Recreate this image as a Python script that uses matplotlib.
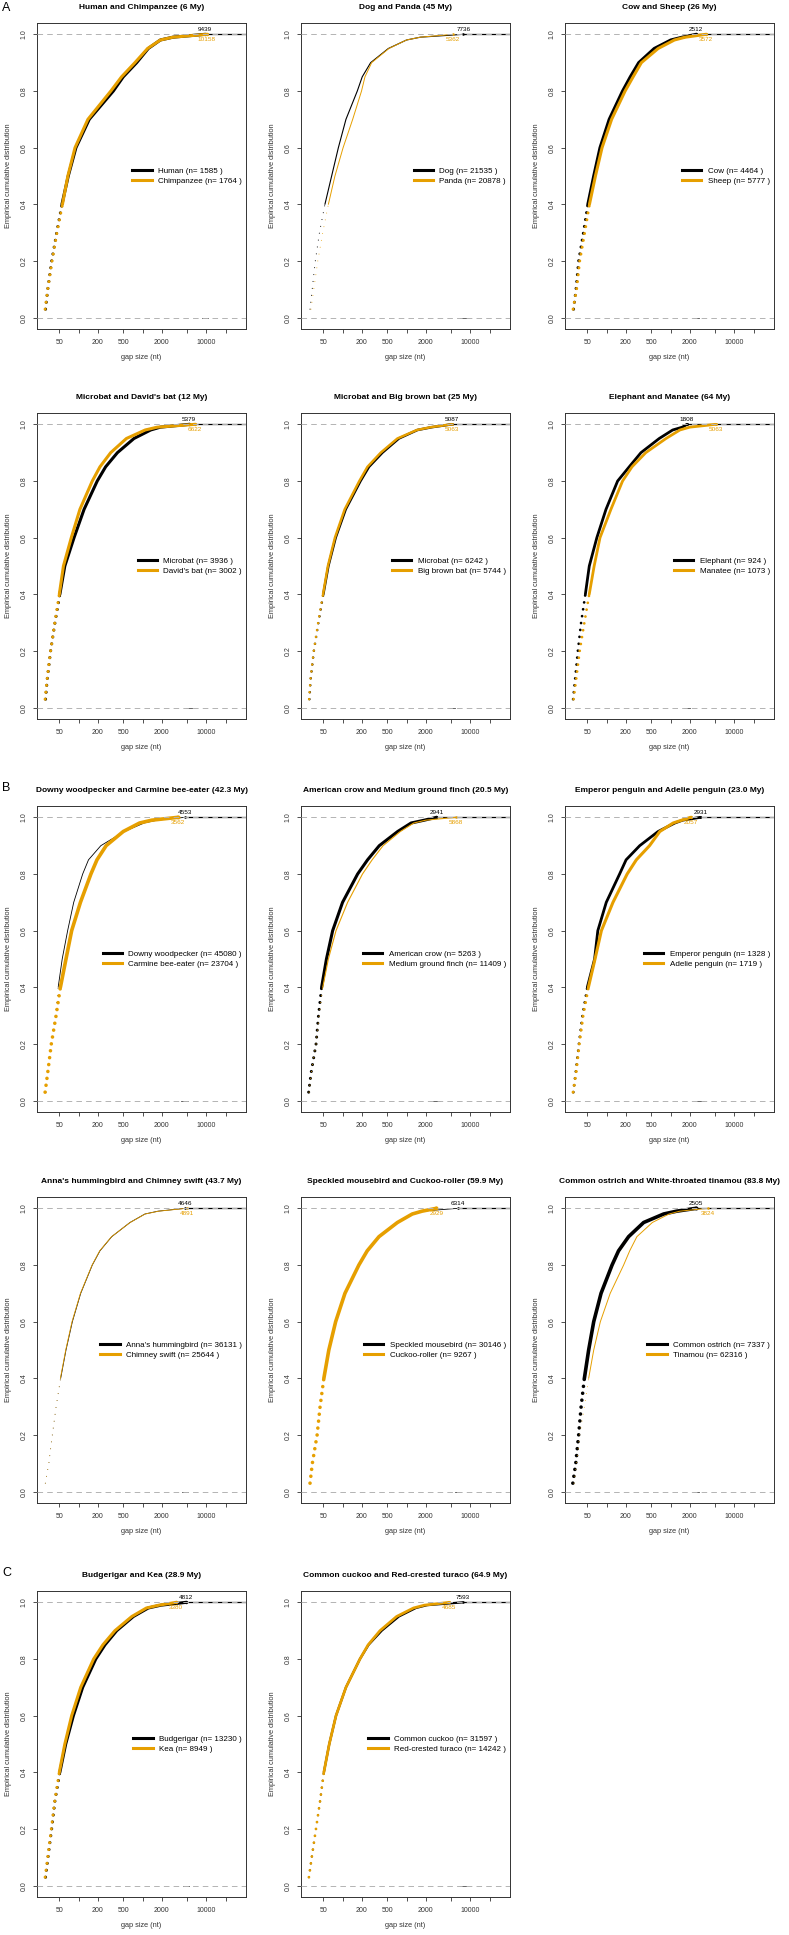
import matplotlib
matplotlib.use("Agg")
import numpy as np
import matplotlib.pyplot as plt
from matplotlib.ticker import FixedLocator, NullLocator, FixedFormatter
from matplotlib.lines import Line2D

plt.rcParams['font.family'] = ['Liberation Sans', 'DejaVu Sans']
plt.rcParams['lines.scale_dashes'] = False

ORANGE = '#E69F00'

LEVELS = [0.03, 0.1, 0.2, 0.3, 0.4, 0.5, 0.6, 0.7, 0.8, 0.85, 0.9, 0.95, 0.98, 0.99]

# gap size (nt) where each curve reaches LEVELS
human = [30.5, 33, 38, 45.5, 55, 69, 91, 147, 350, 500, 810, 1230, 1900, 3000]
chimp = [30, 33, 38.5, 46, 56, 68, 88, 140, 320, 470, 760, 1200, 1900, 3000]
dog = [31, 33.5, 37.5, 43.5, 53, 67.5, 86, 113, 170, 203, 275, 520, 1000, 1650]
panda = [32, 35.5, 41, 49, 60, 76, 102, 144, 198, 224, 285, 530, 1000, 1650]
cow = [30.5, 33.3, 36.6, 43.5, 51, 63, 79, 110, 178, 235, 318, 556, 1010, 1530]
sheep = [30, 34, 38, 45.5, 54, 67, 85, 120, 195, 260, 350, 640, 1150, 1700]
microbat_a = [30.5, 32.4, 36.6, 42.8, 51, 61, 85, 122, 196, 265, 405, 735, 1340, 1900]
davids_bat = [30, 32.2, 36.5, 42.5, 50, 58, 77, 105, 164, 216, 318, 560, 1100, 1700]
microbat_b = [30.3, 31.7, 35.6, 41.9, 50, 60, 78, 112, 191, 259, 420, 760, 1480, 2500]
big_brown_bat = [30, 31.5, 35.5, 41.5, 49.5, 59, 76, 108, 183, 245, 395, 720, 1450, 2400]
elephant = [30, 32.2, 35.6, 40, 46.6, 53.7, 70.5, 98, 149, 226, 345, 666, 1080, 1530]
manatee = [30.5, 33.5, 38, 45, 53.6, 64, 79, 117, 178, 250, 410, 850, 1400, 2000]
downy = [31, 32.9, 37.1, 43.2, 48, 55.5, 67.5, 84, 116, 143, 223, 520, 1060, 1700]
carmine = [30, 33, 37.5, 44.5, 52, 63.6, 78, 107, 156, 194, 270, 500, 900, 1400]
crow = [29.5, 32.3, 38.5, 42, 47, 56, 70, 100, 172, 246, 375, 727, 1180, 1900]
finch = [30, 32.5, 38.5, 43, 49, 60, 79, 120, 205, 290, 430, 800, 1300, 2000]
emperor = [30.2, 33, 37, 42, 50, 65, 73, 99, 160, 202, 330, 640, 1170, 1550]
adelie = [30, 33.5, 37.5, 43, 52, 66, 83, 126, 210, 292, 470, 680, 1100, 1500]
ostrich = [29.7, 33, 36.6, 40, 45, 52.5, 63, 82, 122, 154, 221, 380, 780, 1250]
tinamou = [31, 34, 38, 45, 52.5, 63, 80, 114, 185, 230, 298, 520, 950, 1400]
annas = [30.2, 34.4, 38.9, 44.6, 52.5, 63.6, 80, 108, 164, 216, 330, 637, 1090, 1750]
chimney = [30.2, 34.2, 38.7, 44.4, 52, 63, 79, 107, 163, 214, 328, 640, 1100, 1800]
speckled = [31, 33.7, 40.3, 44.6, 51, 61, 78, 109, 180, 243, 371, 720, 1230, 1750]
cuckoo_roller = [31, 33.7, 40, 44.5, 51, 61, 78, 109, 180, 243, 371, 720, 1230, 1750]
budgerigar = [30.5, 33.3, 38, 42.8, 51, 63, 83, 116, 186, 259, 395, 720, 1230, 1950]
kea = [30, 33, 37.5, 42.5, 50, 61, 78, 108, 172, 240, 370, 680, 1150, 1800]
common_cuckoo = [29.8, 33, 38.4, 44.6, 51, 62, 79, 113, 187, 255, 410, 760, 1400, 2100]
turaco = [29.8, 33, 38.4, 44.6, 51, 62, 79, 113, 187, 251, 385, 700, 1285, 1900]

titles = ["Human and Chimpanzee (6 My)", "Dog and Panda (45 My)", "Cow and Sheep (26 My)",
          "Microbat and David's bat (12 My)", "Microbat and Big brown bat (25 My)",
          "Elephant and Manatee (64 My)",
          "Downy woodpecker and Carmine bee-eater (42.3 My)",
          "American crow and Medium ground finch (20.5 My)",
          "Emperor penguin and Adelie penguin (23.0 My)",
          "Anna's hummingbird and Chimney swift (43.7 My)",
          "Speckled mousebird and Cuckoo-roller (59.9 My)",
          "Common ostrich and White-throated tinamou (83.8 My)",
          "Budgerigar and Kea (28.9 My)", "Common cuckoo and Red-crested turaco (64.9 My)"]
black_names = ["Human", "Dog", "Cow", "Microbat", "Microbat", "Elephant", "Downy woodpecker",
               "American crow", "Emperor penguin", "Anna's hummingbird", "Speckled mousebird",
               "Common ostrich", "Budgerigar", "Common cuckoo"]
orange_names = ["Chimpanzee", "Panda", "Sheep", "David's bat", "Big brown bat", "Manatee",
                "Carmine bee-eater", "Medium ground finch", "Adelie penguin", "Chimney swift",
                "Cuckoo-roller", "Tinamou", "Kea", "Red-crested turaco"]
black_n = [1585, 21535, 4464, 3936, 6242, 924, 45080, 5263, 1328, 36131, 30146, 7337, 13230, 31597]
orange_n = [1764, 20878, 5777, 3002, 5744, 1073, 23704, 11409, 1719, 25644, 9267, 62316, 8949, 14242]
black_max = [9439, 7736, 2512, 5379, 5087, 1808, 4553, 2941, 2931, 4646, 6314, 2505, 4812, 7593]
orange_max = [10158, 5362, 3572, 6622, 5063, 5063, 3562, 5868, 2057, 4891, 2929, 3824, 3380, 4685]
black_curves = [human, dog, cow, microbat_a, microbat_b, elephant, downy, crow, emperor,
                annas, speckled, ostrich, budgerigar, common_cuckoo]
orange_curves = [chimp, panda, sheep, davids_bat, big_brown_bat, manatee, carmine, finch,
                 adelie, chimney, cuckoo_roller, tinamou, kea, turaco]
black_lw = [2.2, 0.8, 2.2, 2.2, 1.8, 2.0, 0.6, 2.2, 2.0, 0.6, 0.6, 2.6, 2.2, 1.6]
orange_lw = [2.2, 0.7, 2.2, 2.2, 1.8, 2.0, 2.6, 0.8, 2.2, 0.6, 2.6, 0.7, 2.2, 2.0]

W, H = 789, 1935
col_left = [37, 301, 565]
row_top = [23, 413, 806, 1197, 1591]
ax_w, ax_h = 209, 306
XMIN, XMAX = 22.4, 41500


def draw_ecdf(ax, xs, gmax, color, lw, z):
    x = np.array(xs + [gmax])
    y = np.array(LEVELS + [1.0])
    k = LEVELS.index(0.4)
    ax.plot(x[:k + 1], y[:k + 1], color=color, lw=lw, ls=(0, (0.01, 5.0)),
            dash_capstyle='round', zorder=z)
    ax.plot(x[k:], y[k:], color=color, lw=lw, solid_capstyle='round',
            solid_joinstyle='round', zorder=z)
    ax.plot([gmax], [1.0], 'o', color=color, ms=max(lw * 1.1, 1.8), mew=0, zorder=z)


fig = plt.figure(figsize=(W / 100, H / 100), dpi=100)

for i in range(14):
    r, c = divmod(i, 3)
    ax = fig.add_axes([col_left[c] / W, 1 - (row_top[r] + ax_h) / H, ax_w / W, ax_h / H])
    ax.set_xscale('log')

    bmax, omax = black_max[i], orange_max[i]
    # tail of the first curve and the little mark at 0
    ax.plot([bmax, XMAX], [1, 1], color='black', lw=0.9, zorder=2)
    ax.plot([bmax / 1.12, bmax * 1.12], [0, 0], color='0.3', lw=0.6, zorder=2)
    draw_ecdf(ax, black_curves[i], bmax, 'black', black_lw[i], 3)
    draw_ecdf(ax, orange_curves[i], omax, ORANGE, orange_lw[i], 4)
    for h in (0, 1):
        ax.axhline(h, color='#B3B3B3', lw=0.7, ls=(0, (4, 3)), zorder=5)

    ax.text(bmax, 1.01, str(bmax), ha='center', va='bottom', fontsize=4.6, color='black')
    ax.text(omax, 0.99, str(omax), ha='center', va='top', fontsize=4.6, color=ORANGE)

    ax.set_xlim(XMIN, XMAX)
    ax.set_ylim(-0.04, 1.04)
    xt = [50, 100, 200, 500, 1000, 2000, 5000, 10000, 20000]
    ax.xaxis.set_major_locator(FixedLocator(xt))
    ax.xaxis.set_major_formatter(FixedFormatter(['50', '', '200', '500', '', '2000', '', '10000', '']))
    ax.xaxis.set_minor_locator(NullLocator())
    ax.set_yticks([0, 0.2, 0.4, 0.6, 0.8, 1.0])
    ax.set_yticklabels(['0.0', '0.2', '0.4', '0.6', '0.8', '1.0'], rotation=90, va='center')
    ax.tick_params(direction='out', length=3, width=0.6, labelsize=5, pad=4, colors='#333333',
                   labelcolor='#333333')
    for s in ax.spines.values():
        s.set_linewidth(0.7)
        s.set_color('#333333')

    ax.set_xlabel('gap size (nt)', fontsize=5.3, labelpad=6, color='#333333')
    ax.set_ylabel('Empirical cumulative distribution', fontsize=5.3, labelpad=6, color='#333333')
    ax.set_title(titles[i], fontsize=6, fontweight='bold', pad=10)

    handles = [Line2D([], [], color='black', lw=2.2), Line2D([], [], color=ORANGE, lw=2.2)]
    labels = [f"{black_names[i]} (n= {black_n[i]} )", f"{orange_names[i]} (n= {orange_n[i]} )"]
    ax.legend(handles, labels, loc='center right', frameon=False, fontsize=5.8,
              handlelength=2.4, handletextpad=0.8, labelspacing=0.25,
              borderpad=0.2, borderaxespad=0.3)

fig.text(2 / W, 1 - 8 / H, 'A', fontsize=9, va='center', ha='left')
fig.text(2 / W, 1 - 788 / H, 'B', fontsize=9, va='center', ha='left')
fig.text(2 / W, 1 - 1573 / H, 'C', fontsize=9, va='center', ha='left')

fig.savefig('out.png', dpi=100)
